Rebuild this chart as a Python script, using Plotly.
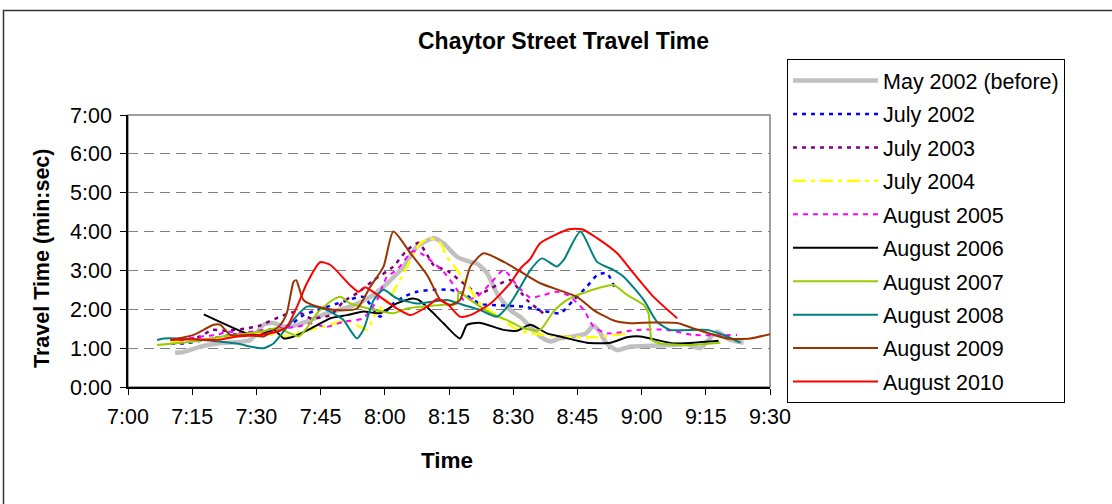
import plotly.graph_objects as go

# ---- data: minutes after 7:00 (t) and travel time in minutes (v) ----
tick_minutes = [0, 15, 30, 45, 60, 75, 90, 105, 120, 135, 150]
tick_labels_x = ["7:00", "7:15", "7:30", "7:45", "8:00", "8:15", "8:30", "8:45", "9:00", "9:15", "9:30"]
y_ticks = [0, 1, 2, 3, 4, 5, 6, 7]
y_tick_labels = ["0:00", "1:00", "2:00", "3:00", "4:00", "5:00", "6:00", "7:00"]

may2002_t = [11, 13, 17, 21, 28.6, 31.6, 34, 36.4, 39.5, 42.6, 46.5, 51.9, 56.6, 59.7, 64.4, 67.5, 71.4, 73.7,
             76.9, 80, 81.5, 83.9, 86.2, 89.3, 91.7, 93.2, 96.3, 98.7, 101, 104, 107, 108.8, 110, 112, 114.3,
             117.4, 122, 127, 130.6, 133.7, 137.6, 140.7, 143.8]
may2002_v = [0.88, 0.9, 1.04, 1.12, 1.21, 1.6, 1.65, 1.55, 1.6, 1.72, 1.9, 2.07, 2.32, 2.58, 3.1, 3.61, 3.83, 3.7,
             3.35, 3.22, 3.18, 2.93, 2.41, 1.98, 1.8, 1.64, 1.3, 1.17, 1.25, 1.3, 1.38, 1.58, 1.45, 1.1, 0.95,
             1.04, 1.06, 1.08, 1.1, 1.0, 1.42, 1.21, 1.14]

jul2002_t = [10, 13, 18.5, 24.6, 27.8, 33, 37.9, 41, 44.2, 50.4, 55, 58.9, 62, 64.4, 67.5, 71.4, 75.3, 78.5,
             82.3, 87, 92.4, 96.3, 101, 104.1, 107.2, 109.6, 111.9, 113.6]
jul2002_v = [1.12, 1.12, 1.22, 1.35, 1.38, 1.42, 1.6, 1.85, 1.98, 2.2, 2.32, 1.81, 2.15, 2.32, 2.45, 2.5, 2.5, 2.4,
             2.14, 2.1, 2.07, 1.98, 1.9, 2.24, 2.58, 2.88, 2.93, 2.58]

jul2003_t = [12, 16.9, 19.6, 23, 27.8, 30.5, 36.4, 39.5, 42.6, 47.3, 50.4, 54, 57.4, 62, 65, 67.9, 69.9, 71.4,
             74.9, 78, 82, 86.2, 89.3, 93.2, 97]
jul2003_v = [1.2, 1.3, 1.47, 1.45, 1.51, 1.57, 1.85, 1.94, 1.77, 1.85, 2.2, 2.45, 2.75, 3.1, 3.5, 3.71, 3.4, 3.14,
             2.97, 2.7, 2.4, 2.62, 2.75, 2.24, 1.9]

jul2004_t = [10, 15, 25, 31, 37.9, 40.3, 45.7, 49.6, 51.9, 55.8, 57.4, 61.3, 65.2, 68.3, 70.6, 73, 74.5, 76.9,
             80, 82.3, 87.8, 90.9, 94, 101, 108.8, 116.6]
jul2004_v = [1.15, 1.18, 1.3, 1.38, 1.3, 1.42, 1.55, 1.68, 1.68, 1.47, 1.81, 2.32, 3.1, 3.7, 3.83, 3.7, 3.35, 3.01,
             2.5, 2.15, 1.72, 1.47, 1.38, 1.3, 1.28, 1.38]

aug2005_t = [12, 16.9, 20.8, 23.1, 27, 31.7, 39.5, 42.6, 46.5, 50.4, 55, 58.2, 60.5, 62.8, 66.7, 69, 73.7, 76.9,
             78.4, 81.5, 84.7, 87.8, 91, 94, 97.1, 100.2, 103, 106.5, 108.8, 111.9, 118.9, 125.9, 132.1, 142.3]
aug2005_v = [1.2, 1.3, 1.34, 1.42, 1.4, 1.47, 1.55, 1.64, 1.55, 1.68, 1.77, 2.24, 2.84, 3.01, 3.5, 3.4, 2.97, 2.5,
             2.24, 2.32, 2.67, 3.01, 2.6, 2.3, 2.37, 2.45, 2.35, 1.98, 1.55, 1.38, 1.47, 1.47, 1.34, 1.34]

aug2006_t = [17.7, 27.8, 30.9, 34, 36.4, 38.7, 42.8, 45.7, 47.3, 51.2, 55, 58.9, 62.8, 66.4, 67.9, 70.6, 73.7,
             77.6, 79.2, 82.3, 87.8, 90.9, 94, 97.9, 101, 107.2, 112.7, 116.6, 119.7, 127.5, 132.1, 138]
aug2006_v = [1.87, 1.38, 1.34, 1.48, 1.25, 1.3, 1.51, 1.68, 1.77, 1.85, 1.94, 1.9, 2.15, 2.28, 2.24, 1.98, 1.64,
             1.25, 1.6, 1.65, 1.47, 1.45, 1.6, 1.38, 1.3, 1.14, 1.14, 1.28, 1.3, 1.12, 1.14, 1.19]

aug2007_t = [6.8, 15.3, 22, 30.9, 34.8, 37.9, 39.9, 42, 44.2, 47.3, 49.6, 51.9, 54.3, 62, 65.2, 73, 76.9, 77.3,
             80, 84.7, 88.6, 92.4, 96.3, 99.4, 102.6, 107.2, 113.5, 116.6, 120.5, 121.6, 122.4, 124.4, 130.6, 138.4]
aug2007_v = [1.08, 1.17, 1.3, 1.42, 1.51, 1.38, 1.3, 1.55, 1.9, 2.2, 2.32, 2.15, 2.07, 1.9, 2.02, 2.11, 2.15, 2.45,
             2.24, 1.9, 1.72, 1.51, 1.47, 1.94, 2.24, 2.45, 2.62, 2.37, 2.11, 1.9, 1.21, 1.12, 1.08, 1.14]

aug2008_t = [6.8, 8.3, 15.3, 25.5, 28.6, 31.7, 34, 37.9, 41.8, 45.7, 50.4, 51.9, 53.5, 55, 57.4, 59.7, 62.8, 67.5,
             74.5, 78.4, 82.3, 86.2, 89.3, 91.7, 94, 96.7, 100.2, 101.8, 105.7, 109.6, 113.5, 115.8, 120.5, 123.6,
             126.7, 135.3, 140, 143.1]
aug2008_v = [1.21, 1.25, 1.23, 1.12, 1.04, 1.0, 1.12, 1.64, 2.07, 2.02, 1.72, 1.47, 1.25, 1.47, 2.24, 2.5, 2.28, 2.15,
             2.24, 2.11, 1.98, 1.81, 2.15, 2.58, 3.01, 3.31, 3.1, 3.27, 4.0, 3.22, 3.01, 2.84, 2.24, 1.68,
             1.47, 1.47, 1.3, 1.14]

aug2009_t = [9.9, 15.3, 20, 21.6, 23.9, 28, 31.7, 35.6, 37.1, 37.9, 38.7, 39.3, 39.9, 41, 44.2, 48.8, 53.5, 56.6,
             59.7, 62, 66, 69.9, 73, 75.3, 77.6, 80, 83.1, 87.8, 91.7, 96.3, 104.9, 108.8, 113.5, 117.4, 122, 128.3,
             132.1, 140, 145.4, 150]
aug2009_v = [1.21, 1.34, 1.6, 1.6, 1.34, 1.34, 1.3, 1.6, 1.9, 2.32, 2.71, 2.75, 2.58, 2.24, 2.07, 1.98, 2.02, 2.58,
             3.1, 4.0, 3.44, 2.88, 2.24, 2.11, 2.24, 3.1, 3.44, 3.22, 2.97, 2.67, 2.32, 1.98, 1.71, 1.64, 1.66, 1.65,
             1.51, 1.25, 1.25, 1.36]

aug2010_t = [9.9, 15.3, 20.8, 25.5, 30.9, 34.8, 37.1, 39.5, 41.8, 44.9, 47.3, 51.9, 53.9, 55.4, 58.9, 62.8, 66,
             69.9, 72.2, 74.5, 77.6, 80, 84.7, 89.3, 91.7, 94, 96.3, 103, 106.1, 109.6, 114.3, 118.1, 122.8, 128.3]
aug2010_v = [1.21, 1.23, 1.21, 1.3, 1.34, 1.42, 1.55, 2.07, 2.67, 3.21, 3.14, 2.62, 2.45, 2.57, 2.32, 2.02, 1.85,
             2.07, 2.26, 2.15, 1.81, 1.85, 2.15, 2.67, 3.05, 3.3, 3.7, 4.06, 4.06, 3.83, 3.44, 2.93, 2.32, 1.77]

series = [
    ("May 2002 (before)", may2002_t, may2002_v, "#C0C0C0", 4.5, "solid"),
    ("July 2002", jul2002_t, jul2002_v, "#0000FF", 2.5, "4px,5px"),
    ("July 2003", jul2003_t, jul2003_v, "#800080", 2.5, "4px,5px"),
    ("July 2004", jul2004_t, jul2004_v, "#FFFF00", 2.5, "13px,5px,4px,5px"),
    ("August 2005", aug2005_t, aug2005_v, "#FF00FF", 2, "5px,5px"),
    ("August 2006", aug2006_t, aug2006_v, "#000000", 2, "solid"),
    ("August 2007", aug2007_t, aug2007_v, "#99CC00", 2, "solid"),
    ("August 2008", aug2008_t, aug2008_v, "#008080", 2, "solid"),
    ("August 2009", aug2009_t, aug2009_v, "#993300", 2, "solid"),
    ("August 2010", aug2010_t, aug2010_v, "#FF0000", 2, "solid"),
]

FONT = "Liberation Sans, Arial, sans-serif"

fig = go.Figure()
for i, (name, t, v, color, width, dash) in enumerate(series):
    fig.add_trace(go.Scatter(
        x=t, y=v, mode="lines", name=name, legendgroup=f"g{i}",
        line=dict(color=color, width=width, dash=dash, shape="spline", smoothing=0.6),
        hoverinfo="skip",
    ))

fig.update_layout(
    width=1112, height=504, autosize=False,
    margin=dict(l=128, r=342, t=115, b=117),
    paper_bgcolor="white", plot_bgcolor="white",
    font=dict(family=FONT, size=21.5, color="black"),
    showlegend=True,
    legend=dict(
        x=1.0265, xanchor="left",
        y=1 + (115 - 59) / 272, yanchor="top",
        bordercolor="black", borderwidth=1, bgcolor="white",
        font=dict(family=FONT, size=21.5, color="black"),
        itemwidth=85, tracegroupgap=2.5, maxheight=420,
    ),
    xaxis=dict(
        range=[0, 150], tickmode="array", tickvals=tick_minutes, ticktext=tick_labels_x,
        showgrid=False, zeroline=False, showline=True, linecolor="black", linewidth=1.5,
        ticks="outside", ticklen=6, tickcolor="black", tickwidth=1,
        tickfont=dict(family=FONT, size=21.5, color="black"), ticklabelstandoff=3,
    ),
    yaxis=dict(
        range=[0, 7], tickmode="array", tickvals=y_ticks, ticktext=y_tick_labels,
        showgrid=True, gridcolor="#808080", gridwidth=1.3, griddash="10px,6px",
        zeroline=False, showline=True, linecolor="black", linewidth=1.5,
        ticks="outside", ticklen=6, tickcolor="black", tickwidth=1,
        tickfont=dict(family=FONT, size=21.5, color="black"), ticklabelstandoff=4,
    ),
    shapes=[
        # plot-area frame (top/right in grey)
        dict(type="rect", xref="paper", yref="paper", x0=0, x1=1, y0=0, y1=1,
             line=dict(color="#808080", width=1.5), layer="below"),
        # outer chart border
        dict(type="rect", xref="paper", yref="paper",
             x0=(3.5 - 128) / 642, x1=(1130 - 128) / 642,
             y0=(387 - 520) / 272, y1=(387 - 10.5) / 272,
             line=dict(color="#333333", width=1.5), layer="below"),
    ],
    annotations=[
        dict(text="<b>Chaytor Street Travel Time</b>", xref="paper", yref="paper",
             x=(563.5 - 128) / 642, y=(387 - 41) / 272, xanchor="center", yanchor="middle",
             showarrow=False, font=dict(family=FONT, size=23, color="black")),
        dict(text="<b>Travel Time (min:sec)</b>", xref="paper", yref="paper",
             x=(42 - 128) / 642, y=(387 - 259) / 272, xanchor="center", yanchor="middle",
             textangle=-90, showarrow=False, font=dict(family=FONT, size=21.5, color="black")),
        dict(text="<b>Time</b>", xref="paper", yref="paper",
             x=(447 - 128) / 642, y=(387 - 460) / 272, xanchor="center", yanchor="middle",
             showarrow=False, font=dict(family=FONT, size=22.5, color="black")),
    ],
)

fig.write_html("out.html", config={"displayModeBar": False},
               post_script="document.body.style.margin='0';")
